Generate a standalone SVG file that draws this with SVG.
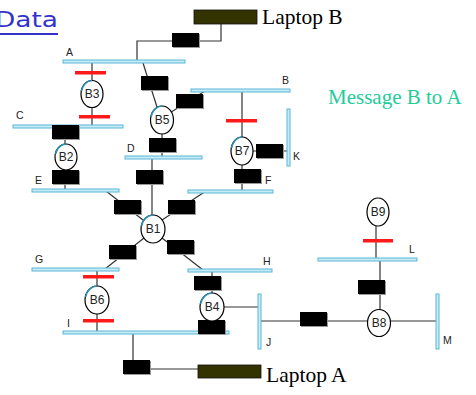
<svg xmlns="http://www.w3.org/2000/svg" width="476" height="395" viewBox="0 0 476 395">
<style>
.lan{fill:#c8ecf7;stroke:#5ab6d6;stroke-width:1}
.br{fill:#000}
.sh{fill:#9a9a9a}
.red{fill:#ff1a1a}
.ln{stroke:#333;stroke-width:1.2;fill:none}
.br-c{fill:#fff;stroke:#000;stroke-width:1.2}
.hl{fill:none;stroke:#2a90b4;stroke-width:1.6}
.bt{font-family:"Liberation Sans",Arial,sans-serif;font-size:12px;fill:#222;text-anchor:middle}
.lb{font-family:"Liberation Sans",Arial,sans-serif;font-size:10.5px;fill:#222}
.big{font-family:"Liberation Serif","Times New Roman",serif;font-size:21.5px;fill:#000}
.lap{fill:#333300;stroke:#111;stroke-width:0.8}
</style>
<defs>
<g id="box"><rect class="sh" x="1" y="1" width="27" height="14"/><rect class="br" x="0" y="0" width="27" height="14"/></g>
</defs>
<rect width="476" height="395" fill="#fff"/>

<text x="-5" y="27" font-family="DejaVu Sans,sans-serif" font-size="21" fill="#3333cc" textLength="63" lengthAdjust="spacingAndGlyphs">Data</text>
<rect x="0" y="33" width="58" height="2" fill="#3333cc"/>

<g id="connectors">
<polyline class="ln" points="221,24 221,41 137,41 137,61"/>
<line class="ln" x1="143" y1="63" x2="157" y2="107"/>
<line class="ln" x1="205" y1="91" x2="168" y2="114"/>
<line class="ln" x1="162" y1="133" x2="162" y2="157"/>
<line class="ln" x1="152" y1="157" x2="152" y2="215"/>
<line class="ln" x1="242" y1="90" x2="242" y2="191" stroke="#555"/>
<line class="ln" x1="253" y1="151" x2="288" y2="151"/>
<line class="ln" x1="92" y1="61" x2="92" y2="126"/>
<line class="ln" x1="65" y1="126" x2="65" y2="190"/>
<line class="ln" x1="106" y1="191" x2="143" y2="220"/>
<line class="ln" x1="206" y1="191" x2="162" y2="220"/>
<line class="ln" x1="144" y1="238" x2="105" y2="269"/>
<line class="ln" x1="162" y1="238" x2="203" y2="270"/>
<line class="ln" x1="97" y1="269" x2="97" y2="332"/>
<line class="ln" x1="212" y1="270" x2="212" y2="332"/>
<line class="ln" x1="224" y1="307" x2="260" y2="307"/>
<line class="ln" x1="260" y1="321" x2="437" y2="321"/>
<line class="ln" x1="376" y1="226" x2="376" y2="259"/>
<line class="ln" x1="380" y1="259" x2="380" y2="310"/>
<polyline class="ln" points="133,332 133,369 198,369"/>
</g>

<g id="lanA"><rect class="lan" x="63" y="60" width="122" height="3"/><text class="lb" x="66" y="56">A</text></g>
<g id="lanB"><rect class="lan" x="191" y="89" width="99" height="3"/><text class="lb" x="282" y="84">B</text></g>
<g id="lanC"><rect class="lan" x="13" y="125" width="110" height="3"/><text class="lb" x="16" y="119">C</text></g>
<g id="lanD"><rect class="lan" x="125" y="156" width="77" height="3"/><text class="lb" x="127" y="152">D</text></g>
<g id="lanE"><rect class="lan" x="32" y="189" width="87" height="3"/><text class="lb" x="35" y="184">E</text></g>
<g id="lanF"><rect class="lan" x="188" y="190" width="85" height="3"/><text class="lb" x="265" y="184">F</text></g>
<g id="lanG"><rect class="lan" x="32" y="268" width="87" height="3"/><text class="lb" x="35" y="263">G</text></g>
<g id="lanH"><rect class="lan" x="188" y="269" width="84" height="3"/><text class="lb" x="263" y="265">H</text></g>
<g id="lanI"><rect class="lan" x="63" y="331" width="166" height="3"/><text class="lb" x="67" y="327">I</text></g>
<g id="lanJ"><rect class="lan" x="258" y="294" width="3" height="55"/><text class="lb" x="266" y="346">J</text></g>
<g id="lanK"><rect class="lan" x="287" y="109" width="3" height="57"/><text class="lb" x="293" y="160">K</text></g>
<g id="lanL"><rect class="lan" x="318" y="258" width="99" height="3"/><text class="lb" x="409" y="253">L</text></g>
<g id="lanM"><rect class="lan" x="436" y="294" width="3" height="55"/><text class="lb" x="443" y="344">M</text></g>

<g id="ports">
<use href="#box" x="172" y="33"/>
<use href="#box" x="141" y="76"/>
<use href="#box" x="176" y="94"/>
<use href="#box" x="149" y="138"/>
<use href="#box" x="136" y="170"/>
<use href="#box" x="234" y="169"/>
<use href="#box" x="256" y="144"/>
<use href="#box" x="52" y="125"/>
<use href="#box" x="52" y="170"/>
<use href="#box" x="114" y="200"/>
<use href="#box" x="168" y="200"/>
<use href="#box" x="109" y="245"/>
<use href="#box" x="167" y="240"/>
<use href="#box" x="194" y="276"/>
<use href="#box" x="198" y="320"/>
<use href="#box" x="300" y="312"/>
<use href="#box" x="358" y="280"/>
<use href="#box" x="123" y="360"/>
<rect class="red" x="75" y="71" width="31" height="3.5"/>
<rect class="red" x="79" y="115" width="31" height="3.5"/>
<rect class="red" x="226" y="119" width="31" height="3.5"/>
<rect class="red" x="83" y="275" width="31" height="3.5"/>
<rect class="red" x="83" y="319" width="31" height="3.5"/>
<rect class="red" x="363" y="239" width="30" height="3.5"/>
</g>

<g id="B1"><ellipse class="br-c" cx="153" cy="229" rx="12" ry="14"/><path class="hl" d="M141.5,226 A12,14 0 0 1 153,215"/><text class="bt" x="153" y="233">B1</text></g>
<g id="B2"><ellipse class="br-c" cx="66" cy="157" rx="11" ry="13"/><path class="hl" d="M55.5,154 A11,13 0 0 1 66,144"/><text class="bt" x="66" y="161">B2</text></g>
<g id="B3"><ellipse class="br-c" cx="92" cy="94" rx="11" ry="13.5"/><path class="hl" d="M81.5,91 A11,13.5 0 0 1 92,80.5"/><text class="bt" x="92" y="98">B3</text></g>
<g id="B4"><ellipse class="br-c" cx="212" cy="307" rx="12" ry="14"/><path class="hl" d="M200.5,304 A12,14 0 0 1 212,293"/><text class="bt" x="212" y="311">B4</text></g>
<g id="B5"><ellipse class="br-c" cx="162" cy="120" rx="11.5" ry="14"/><path class="hl" d="M151,117 A11.5,14 0 0 1 162,106"/><text class="bt" x="162" y="124">B5</text></g>
<g id="B6"><ellipse class="br-c" cx="97" cy="300" rx="12" ry="14"/><path class="hl" d="M85.5,297 A12,14 0 0 1 97,286"/><text class="bt" x="97" y="304">B6</text></g>
<g id="B7"><ellipse class="br-c" cx="242" cy="151" rx="11" ry="14"/><path class="hl" d="M231.5,148 A11,14 0 0 1 242,137"/><text class="bt" x="242" y="155">B7</text></g>
<g id="B8"><ellipse class="br-c" cx="379" cy="323" rx="11.5" ry="13.5"/><text class="bt" x="379" y="327">B8</text></g>
<g id="B9"><ellipse class="br-c" cx="378" cy="212" rx="11" ry="14"/><text class="bt" x="378" y="216">B9</text></g>

<g id="laptopB"><rect class="lap" x="194" y="10" width="63" height="14"/><text class="big" x="262" y="24">Laptop B</text></g>
<g id="laptopA"><rect class="lap" x="198" y="365" width="63" height="13"/><text class="big" x="266" y="382">Laptop A</text></g>

<text x="328" y="104" font-family="Liberation Serif,Times New Roman,serif" font-size="21" fill="#22cc99">Message B to A</text>
</svg>
